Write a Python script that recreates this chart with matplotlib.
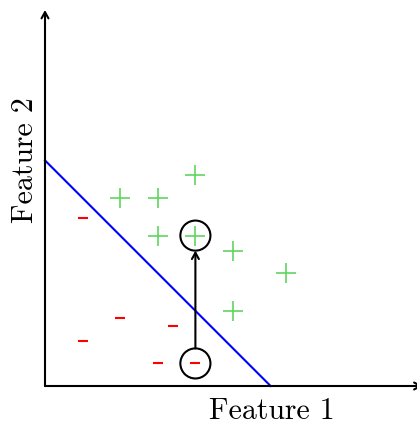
import matplotlib.pyplot as plt
from matplotlib.patches import Circle

# data points (feature units)
pos_x = [2, 3, 4, 3, 4, 5, 6.4, 5]
pos_y = [5, 5, 5.6, 4, 4, 3.6, 3.0, 2.0]
neg_x = [1, 1, 2, 3.4, 3, 4]
neg_y = [4.47, 1.2, 1.8, 1.6, 0.6, 0.6]

# decision boundary x + y = 6
bound_x = [0, 6]
bound_y = [6, 0]

# perturbed sample: from (4, 0.6) to (4, 4)
circ_centers = [(4, 0.6), (4, 4)]
circ_r = 0.4

scale = 37.6  # px per unit
fig = plt.figure(figsize=(4.17, 4.23), dpi=100)
ax = fig.add_axes([0, 0, 1, 1])
ax.set_xlim(-45 / scale, (417 - 45) / scale)
ax.set_ylim(-(423 - 386) / scale, 386 / scale)
ax.axis("off")

# axes with arrows
arrow = dict(arrowstyle="->,head_length=0.45,head_width=0.25", lw=1.5, color="black",
             shrinkA=0, shrinkB=0)
ax.annotate("", xy=(10.04, 0), xytext=(0, 0), arrowprops=arrow, annotation_clip=False)
ax.annotate("", xy=(0, 10), xytext=(0, 0), arrowprops=arrow, annotation_clip=False)

ax.plot(bound_x, bound_y, color="blue", lw=1.5)

ax.plot(pos_x, pos_y, ls="none", marker="+", ms=15, mew=1.2, color="#5fd65f")
ax.plot(neg_x, neg_y, ls="none", marker="_", ms=7, mew=1.5, color="red")

for c in circ_centers:
    ax.add_patch(Circle(c, circ_r, fill=False, ec="black", lw=1.5))

ax.annotate("", xy=(4, 4 - circ_r), xytext=(4, 0.6 + circ_r), arrowprops=arrow)

font = dict(family="cmr10", fontsize=21.5)
ax.text(6.02, -0.88, "Feature 1", ha="center", va="baseline", **font)
ax.text(-0.32, 6.01, "Feature 2", ha="center", va="baseline", rotation=90,
        rotation_mode="anchor", **font)

plt.savefig("out.png", dpi=100)
